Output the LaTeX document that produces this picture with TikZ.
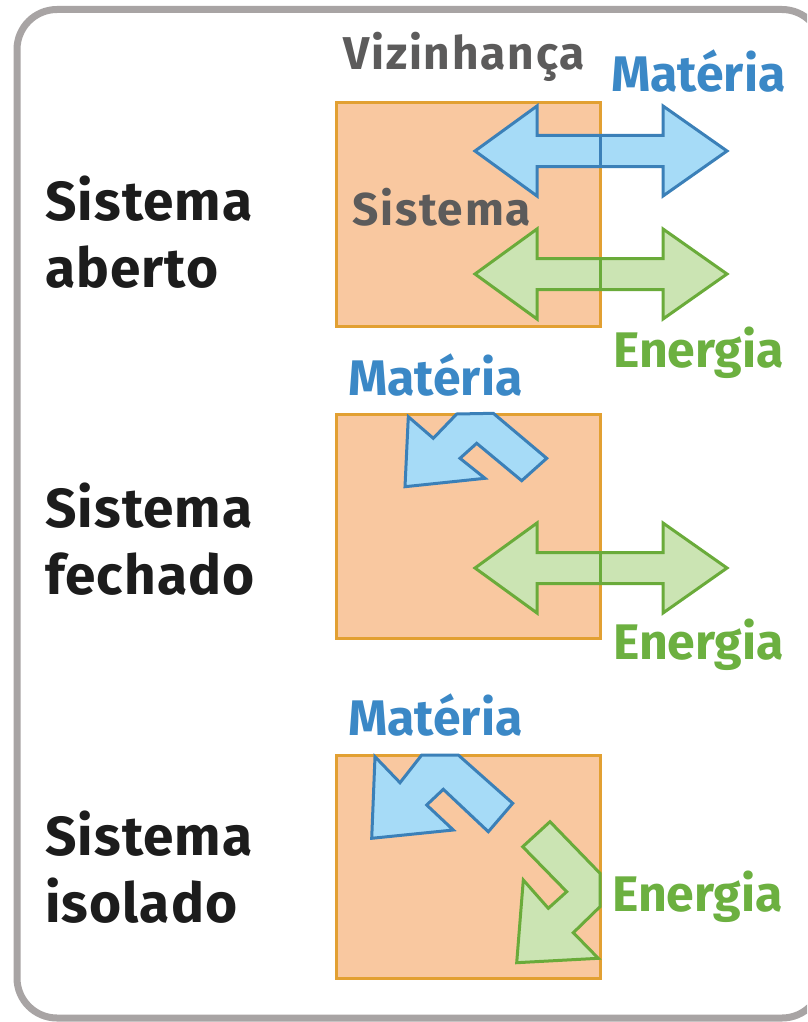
\documentclass[tikz,border=0pt]{standalone}
\usepackage{fontspec}
\setmainfont{Fira Sans}
\newfontfamily\sidefont{Fira Sans}[LetterSpace=2]
\newfontfamily\grayfont{Fira Sans}[LetterSpace=4]
\definecolor{framegray}{HTML}{A8A4A4}
\definecolor{darktext}{HTML}{1C1C1C}
\definecolor{graytext}{HTML}{5C5B5B}
\definecolor{bluetext}{HTML}{3B88C6}
\definecolor{greentext}{HTML}{6CB040}
\definecolor{boxfill}{HTML}{F9C8A0}
\definecolor{boxline}{HTML}{E2A032}
\definecolor{bluefill}{HTML}{A6DBF7}
\definecolor{blueline}{HTML}{3B80B8}
\definecolor{greenfill}{HTML}{CBE4B3}
\definecolor{greenline}{HTML}{6AAB3A}
\tikzset{
  frame/.style={draw=framegray, line width=7pt, rounded corners=40pt},
  sysbox/.style={fill=boxfill, draw=boxline, line width=3pt},
  bluearrow/.style={fill=bluefill, draw=blueline, line width=3pt, line join=miter},
  greenarrow/.style={fill=greenfill, draw=greenline, line width=3pt, line join=miter},
  lbl/.style={inner sep=0pt, anchor=base west, font=\bfseries\fontsize{#1}{#1}\selectfont},
  sidelabel/.style={lbl=55, text=darktext, font=\sidefont\bfseries\fontsize{55}{55}\selectfont},
  graylabel/.style={lbl=46, text=graytext, font=\grayfont\bfseries\fontsize{46}{46}\selectfont},
  bluelabel/.style={lbl=50, text=bluetext},
  greenlabel/.style={lbl=50, text=greentext}
}
\newcommand\dblarrow[3]{%
  \filldraw[#2] (475,#1) -- (537,#1-45) -- (537,#1-15.5) -- (663,#1-15.5) -- (663,#1-45) -- (727,#1)
    -- (663,#1+45) -- (663,#1+15.5) -- (537,#1+15.5) -- (537,#1+45) -- cycle;
  \draw[#3, line width=3pt] (600,#1-15.5) -- (600,#1+15.5);
}
\begin{document}
\begin{tikzpicture}[x=1pt, y=-1pt]
\useasboundingbox (0,0) rectangle (807,1022);
\clip (0,0) rectangle (807,1022);
\fill[white] (0,0) rectangle (807,1022);
\draw[frame] (17,9.5) rectangle (822,1018);

% boxes
\draw[sysbox] (336,102.5) rectangle (600,326.5);
\draw[sysbox] (336,414) rectangle (600,638);
\draw[sysbox] (336,755) rectangle (600,978);

% open system arrows
\dblarrow{151}{bluearrow}{blueline}
\dblarrow{274}{greenarrow}{greenline}

% closed system arrows
\filldraw[bluearrow] (408.3,416.7) -- (433.3,438.3) -- (456.7,414) -- (493.3,413.3) -- (546.7,458.3)
  -- (521.7,480.7) -- (476.7,443.3) -- (460,458.3) -- (485,478.3) -- (405,486.7) -- cycle;
\dblarrow{568}{greenarrow}{greenline}

% isolated system arrows
\filldraw[bluearrow] (375,756.7) -- (400,782.7) -- (421.7,755) -- (458.3,755) -- (512.7,803.3)
  -- (488.3,831.7) -- (443.3,789.3) -- (426.7,805) -- (453.3,830) -- (371.7,838.3) -- cycle;
\filldraw[greenarrow] (522.7,846.7) -- (566.7,891.7) -- (548.3,908.3) -- (523.3,880) -- (516.7,962.7)
  -- (598.3,958.3) -- (573.3,932.7) -- (600,906.7) -- (600,873.3) -- (550,821.7) -- cycle;

% labels
\node[graylabel] (viz) at (343,70) {Vizinhança};
\node[bluelabel] (mat1) at (611,92) {Matéria};
\node[graylabel] (sis) at (352,225) {Sistema};
\node[greenlabel] (ene1) at (613,367) {Energia};
\node[bluelabel] (mat2) at (348,395) {Matéria};
\node[greenlabel] (ene2) at (613,659) {Energia};
\node[bluelabel] (mat3) at (348,735) {Matéria};
\node[greenlabel] (ene3) at (612,911) {Energia};

\node[sidelabel] (s1a) at (45,220) {Sistema};
\node[sidelabel] (s1b) at (45,287) {aberto};
\node[sidelabel] (s2a) at (45,527) {Sistema};
\node[sidelabel] (s2b) at (45,594) {fechado};
\node[sidelabel] (s3a) at (45,855) {Sistema};
\node[sidelabel] (s3b) at (45,922) {isolado};
\end{tikzpicture}
\end{document}
